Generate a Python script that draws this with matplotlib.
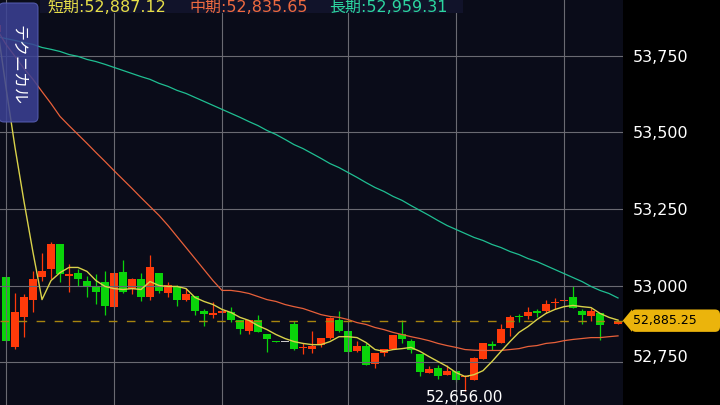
import numpy as np
import matplotlib.pyplot as plt
from matplotlib.patches import FancyBboxPatch, Polygon, Rectangle
from matplotlib.transforms import IdentityTransform, ScaledTranslation, blended_transform_factory

# bar -1 is the one cut off at the left edge
idx = np.arange(-1, 69)
opens = [53826, 53027, 52799, 52897, 52954, 53027, 53055, 53137, 53030, 53041,
         53014, 52994, 53012, 52929, 53045, 52989, 53020, 52962, 53042, 52976,
         52998, 52954, 52967, 52916, 52903, 52909, 52914, 52889, 52851, 52889,
         52843, 52818, 52815, 52873, 52796, 52793, 52807, 52829, 52889, 52853,
         52785, 52804, 52744, 52780, 52793, 52843, 52820, 52778, 52715, 52731,
         52707, 52722, 52703, 52693, 52761, 52810, 52813, 52860, 52898, 52902,
         52918, 52916, 52944, 52949, 52962, 52916, 52901, 52911, 52873, 52873]
highs = [53855, 53027, 52976, 52973, 53047, 53107, 53141, 53137, 53069, 53055,
         53030, 53038, 53049, 53041, 53082, 53023, 53042, 53101, 53042, 53011,
         53001, 52992, 52967, 52922, 52945, 52922, 52930, 52889, 52886, 52905,
         52843, 52818, 52815, 52883, 52813, 52853, 52830, 52897, 52916, 52853,
         52820, 52813, 52781, 52794, 52840, 52887, 52826, 52778, 52737, 52742,
         52740, 52722, 52707, 52767, 52813, 52820, 52873, 52903, 52908, 52929,
         52922, 52954, 52958, 52954, 53000, 52924, 52927, 52911, 52873, 52887]
lows = [53820, 52820, 52794, 52831, 52913, 53014, 53020, 53012, 52979, 52998,
        52962, 52941, 52905, 52929, 52975, 52971, 52949, 52954, 52974, 52963,
        52932, 52949, 52905, 52867, 52895, 52909, 52880, 52843, 52842, 52849,
        52782, 52815, 52815, 52789, 52775, 52780, 52799, 52824, 52848, 52782,
        52782, 52740, 52731, 52771, 52793, 52813, 52780, 52706, 52715, 52696,
        52707, 52686, 52656, 52691, 52761, 52789, 52813, 52834, 52881, 52891,
        52897, 52911, 52922, 52949, 52927, 52873, 52883, 52821, 52873, 52873]
closes = [53852, 52820, 52913, 52962, 53020, 53049, 53137, 53036, 53039, 53020,
          52998, 52978, 52932, 53041, 52978, 53020, 52962, 53059, 52981, 53001,
          52954, 52971, 52916, 52908, 52911, 52916, 52887, 52859, 52886, 52849,
          52827, 52815, 52815, 52794, 52798, 52804, 52829, 52895, 52853, 52782,
          52801, 52740, 52781, 52794, 52837, 52824, 52791, 52717, 52729, 52706,
          52722, 52690, 52706, 52764, 52813, 52802, 52859, 52898, 52896, 52914,
          52911, 52941, 52946, 52954, 52927, 52903, 52916, 52870, 52873, 52885.25]

ma_short = [53852, 53646, 53451, 53274, 53108, 52954, 53016, 53042, 53059, 53059,
            53046, 53016, 52997, 52990, 52987, 52990, 52987, 53013, 53000, 52997,
            52997, 52990, 52961, 52948, 52938, 52922, 52912, 52896, 52886, 52869,
            52856, 52840, 52827, 52817, 52811, 52807, 52807, 52817, 52833, 52833,
            52830, 52814, 52791, 52785, 52791, 52794, 52798, 52785, 52768, 52752,
            52736, 52716, 52703, 52709, 52722, 52752, 52785, 52817, 52847, 52866,
            52889, 52909, 52922, 52931, 52935, 52931, 52928, 52909, 52896, 52887.12]
ma_mid = [53836, 53787, 53748, 53708, 53673, 53633, 53594, 53552, 53522, 53493,
          53464, 53434, 53405, 53375, 53346, 53317, 53287, 53258, 53229, 53196,
          53160, 53124, 53088, 53052, 53016, 52984, 52984, 52980, 52974, 52964,
          52954, 52948, 52938, 52931, 52925, 52915, 52905, 52899, 52896, 52889,
          52879, 52873, 52863, 52856, 52847, 52840, 52833, 52827, 52820, 52811,
          52804, 52798, 52791, 52789, 52788, 52788, 52788, 52791, 52794, 52801,
          52804, 52811, 52814, 52820, 52824, 52827, 52830, 52830, 52833, 52835.65]
ma_long = [53813, 53806, 53800, 53793, 53787, 53777, 53771, 53764, 53754, 53748,
           53738, 53731, 53722, 53712, 53702, 53692, 53682, 53673, 53660, 53650,
           53637, 53627, 53614, 53601, 53588, 53575, 53562, 53549, 53535, 53522,
           53506, 53493, 53477, 53460, 53447, 53431, 53415, 53398, 53385, 53369,
           53353, 53336, 53320, 53307, 53291, 53278, 53261, 53245, 53229, 53212,
           53196, 53183, 53170, 53157, 53147, 53134, 53124, 53111, 53101, 53088,
           53078, 53065, 53052, 53039, 53026, 53013, 52997, 52984, 52974, 52959.31]

y_ticks = [52750, 53000, 53250, 53500, 53750]
day_breaks = [0, 12, 24, 38, 50, 62]
low_price = 52656.00
last_price = closes[-1]

UP, DOWN, FLAT = '#ff3a0a', '#0ad40a', '#c8c8c8'
BG = '#0a0c19'

fig = plt.figure(figsize=(7.2, 4.05), dpi=100, facecolor='black')
ax = fig.add_axes([0, 0, 623 / 720, 1])
ax.set_facecolor(BG)
for s in ax.spines.values():
    s.set_visible(False)

o = np.array(opens)
c = np.array(closes)
cols = np.where(c > o, UP, np.where(c < o, DOWN, FLAT))
body_low = np.minimum(o, c)
body_h = np.maximum(np.abs(c - o), 3)

ax.vlines(idx, lows, highs, colors=cols, lw=0.9, zorder=2)
ax.bar(idx, body_h, bottom=body_low, width=0.86, color=cols, lw=0, zorder=2.1)

# grid over the candles
ax.set_yticks(y_ticks)
ax.yaxis.grid(True, color='#6a6a72', lw=0.8, zorder=2.5)
ax.set_axisbelow(False)
for d in day_breaks:
    ax.axvline(d, color='#6a6a72', lw=0.8, zorder=2.5)

ax.plot(idx, ma_long, color='#1fbf92', lw=0.9, zorder=3)
ax.plot(idx, ma_mid, color='#e8603a', lw=0.9, zorder=3)
ax.plot(idx, ma_short, color='#d9d24a', lw=1.0, zorder=3.1)

ax.axhline(last_price, color='#a8850f', lw=1, dashes=(6.2, 6.8), zorder=3.2)

ax.set_xlim(-0.667, 68.555)
ax.set_ylim(52610, 53932)
ax.set_xticks([])

ax.yaxis.tick_right()
ax.tick_params(axis='y', length=0, pad=7.2, labelsize=11.5, labelcolor='white')
ax.set_yticklabels([f'{v:,}' for v in y_ticks])
lab = ax.get_yticklabels()[0]
lab.set_transform(lab.get_transform() + ScaledTranslation(0, 0.06, fig.dpi_scale_trans))

# lowest price marker
ax.annotate(f'{low_price:,.2f}', xy=(51, low_price), xytext=(0, 1),
            textcoords='offset pixels', ha='center', va='top',
            color='white', fontsize=11, zorder=5)

# price tag on the right axis
yc = ax.transData.transform((0, last_price))[1]
tag_col = '#ebb40c'
fig.add_artist(FancyBboxPatch((631, yc - 11.2), 89, 22.4,
                              boxstyle='round,pad=0,rounding_size=5',
                              fc=tag_col, ec='none', transform=IdentityTransform(),
                              zorder=4))
fig.add_artist(Polygon([(622.7, yc), (632, yc + 11.2), (632, yc - 11.2)],
                       closed=True, fc=tag_col, ec='none', transform=IdentityTransform(),
                       zorder=4))
tr = blended_transform_factory(ax.transAxes, ax.transData)
fig.text(633 / 623, last_price, f'{last_price:,.2f}', transform=tr, ha='left',
         va='center', fontsize=9, color='black', zorder=6)

# header with the three averages
fig.add_artist(Rectangle((40, 405 - 13), 423, 13, fc='#11132a', ec='none',
                         transform=IdentityTransform(), zorder=4))
fam = ['DejaVu Sans', 'Noto Sans CJK JP']
legend = [('短期', ma_short[-1], '#e6de48', 47),
          ('中期', ma_mid[-1], '#ee6a40', 189),
          ('長期', ma_long[-1], '#2cd6a0', 329)]
for name, val, col, px in legend:
    fig.text(px / 720, 1 - 7 / 405, f'{name}:{val:,.2f}', color=col,
             fontsize=11.5, family=fam, ha='left', va='center', zorder=5)

# side tab
fig.add_artist(FancyBboxPatch((-1, 405 - 122), 39, 119,
                              boxstyle='round,pad=0,rounding_size=5',
                              fc='#3c4296', ec='#5860b4', lw=0.8, alpha=0.85,
                              transform=IdentityTransform(), zorder=4))
fig.text(18 / 720, 1 - 65 / 405, 'テクニカル', rotation=270, color='white',
         fontsize=11.5, family=['Noto Sans CJK JP', 'DejaVu Sans'],
         ha='center', va='center', zorder=5)

fig.savefig('out.png', dpi=100, facecolor='black')
